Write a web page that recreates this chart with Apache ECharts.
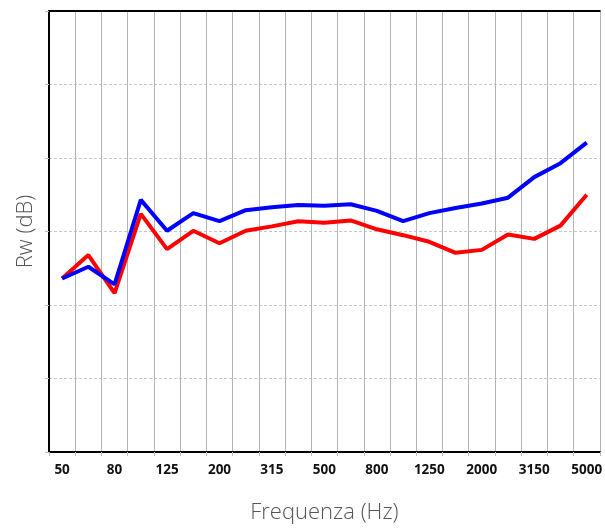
<!DOCTYPE html>
<html>
<head>
<meta charset="utf-8">
<script src="https://cdn.jsdelivr.net/npm/echarts@6/dist/echarts.min.js"></script>
<style>html,body{margin:0;padding:0;background:#fff}#c{width:605px;height:529px}</style>
</head>
<body>
<div id="c"></div>
<script>
const frequencies = ['50','63','80','100','125','160','200','250','315','400','500','630','800','1000','1250','1600','2000','2500','3150','4000','5000'];
const blueSeries = [23.6,25.2,22.8,34.3,30.1,32.5,31.4,32.9,33.3,33.6,33.5,33.7,32.8,31.4,32.5,33.2,33.8,34.6,37.4,39.3,42.1];
const redSeries  = [23.6,26.8,21.6,32.4,27.6,30.1,28.4,30.1,30.7,31.4,31.2,31.5,30.3,29.5,28.6,27.1,27.5,29.6,29.0,30.8,35.0];

const chart = echarts.init(document.getElementById('c'), null, {renderer:'canvas'});
chart.setOption({
  animation:false,
  backgroundColor:'#fff',
  grid:{left:49, right:-1, top:11, bottom:72},
  xAxis:[{
    type:'category', data:frequencies, boundaryGap:true,
    name:'Frequenza (Hz)', nameLocation:'middle', nameGap:50,
    nameTextStyle:{fontFamily:'Open Sans', fontSize:22, fontWeight:300, color:'#555'},
    axisLine:{lineStyle:{color:'#000', width:2}},
    axisTick:{show:true, interval:0, length:4, lineStyle:{color:'#bbb'}},
    axisLabel:{interval:1, margin:11, fontFamily:'Open Sans', fontWeight:'bold', fontSize:13.5, color:'#111'},
    splitLine:{show:true, interval:0, lineStyle:{color:'#b4b4b4', width:1}}
  },{
    type:'category', data:frequencies, position:'top', boundaryGap:true,
    axisLine:{lineStyle:{color:'#000', width:2}},
    axisTick:{show:false}, axisLabel:{show:false}, splitLine:{show:false}
  }],
  yAxis:{
    type:'value', min:0, max:60, interval:10,
    name:'Rw (dB)', nameLocation:'middle', nameGap:12,
    nameTextStyle:{fontFamily:'Open Sans', fontSize:22, fontWeight:300, color:'#555'},
    axisLine:{show:true, lineStyle:{color:'#000', width:2}},
    axisTick:{show:true, length:4, lineStyle:{color:'#bbb'}},
    axisLabel:{show:false},
    splitLine:{show:true, lineStyle:{color:'#c8c8c8', width:1, type:[3,2]}}
  },
  series:[
    {type:'line', data:redSeries, symbol:'none', lineStyle:{color:'#ff0000', width:4}, itemStyle:{color:'#ff0000'}},
    {type:'line', data:blueSeries, symbol:'none', lineStyle:{color:'#0000ff', width:4}, itemStyle:{color:'#0000ff'}}
  ]
});
</script>
</body>
</html>
